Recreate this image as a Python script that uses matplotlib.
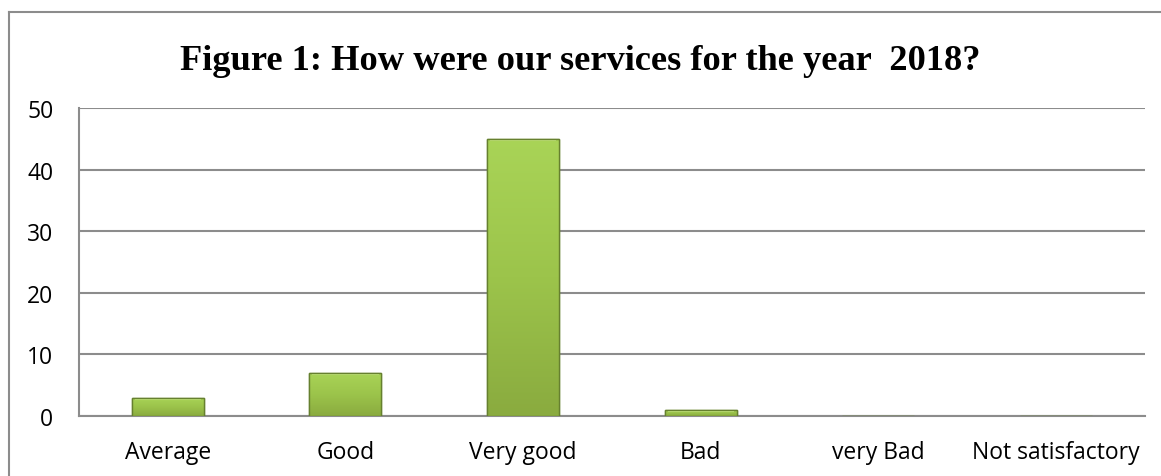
import numpy as np
import matplotlib.pyplot as plt
from matplotlib.lines import Line2D
from matplotlib.colors import LinearSegmentedColormap

# survey responses
categories = ['Average', 'Good', 'Very good', 'Bad', 'very Bad', 'Not satisfactory']
counts = [3, 7, 45, 1, 0, 0]
y_ticks = [0, 10, 20, 30, 40, 50]

fig = plt.figure(figsize=(11.61, 4.77), dpi=100)
ax = fig.add_axes([0.068, 0.1258, 0.9182, 0.6457])

x = np.arange(len(categories))
bars = ax.bar(x, counts, width=0.405, color='#9cc64b', edgecolor='#6d8a33',
              linewidth=1.0, zorder=3)

# vertical shading on each bar, light at the top, darker towards the base
grad = np.linspace(0, 1, 256).reshape(-1, 1)
cmap = LinearSegmentedColormap.from_list('bar', ['#8aab3f', '#9cc44b', '#a9d457'])
for b in bars:
    h = b.get_height()
    if h <= 0:
        continue
    x0 = b.get_x()
    w = b.get_width()
    im = ax.imshow(grad, extent=[x0, x0 + w, 0, h], origin='lower', cmap=cmap,
                   aspect='auto', zorder=3.5)
    im.set_clip_path(b)
    # bevel highlight along the top edge
    ax.plot([x0 + w * 0.04, x0 + w * 0.96], [h - 0.25, h - 0.25],
            color='#c4e67a', lw=1.5, zorder=4, solid_capstyle='butt')
    ax.bar(x0 + w / 2, h, width=w, fill=False, edgecolor='#66802f',
           linewidth=1.0, zorder=4.5)

ax.set_xlim(-0.5, len(categories) - 0.5)
ax.set_ylim(0, 50)
ax.set_yticks(y_ticks)
ax.set_xticks(x)
ax.set_xticklabels(categories)
ax.yaxis.grid(True, color='#8c8c8c', linewidth=1.5, zorder=0)
ax.set_axisbelow(True)
ax.tick_params(axis='both', length=0, labelsize=16.5, colors='black')
ax.tick_params(axis='y', pad=18.5)
ax.tick_params(axis='x', pad=17)
for lbl in ax.get_xticklabels() + ax.get_yticklabels():
    lbl.set_fontfamily('Open Sans')

for side in ['top', 'right']:
    ax.spines[side].set_visible(False)
ax.spines['left'].set_color('#8c8c8c')
ax.spines['left'].set_linewidth(1.5)
ax.spines['bottom'].set_color('#8c8c8c')
ax.spines['bottom'].set_linewidth(1.5)

# outer chart border
fig.add_artist(Line2D([9 / 1161, 1], [1 - 13 / 477, 1 - 13 / 477],
                      color='#8c8c8c', lw=1.5))
fig.add_artist(Line2D([9 / 1161, 9 / 1161], [0, 1 - 13 / 477],
                      color='#8c8c8c', lw=1.5))

fig.text(0.5, 1 - 61 / 477, 'Figure 1: How were our services for the year  2018?',
         ha='center', va='center', fontsize=26.2, fontweight='bold',
         fontfamily='Liberation Serif')

fig.savefig('out.png', dpi=100)
